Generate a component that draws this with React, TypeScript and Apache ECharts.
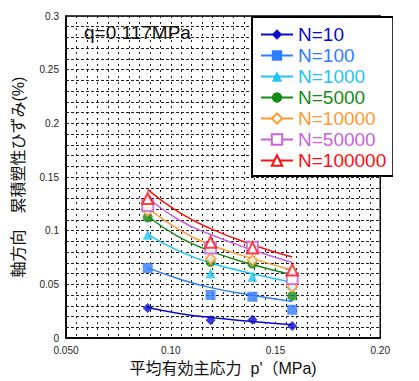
import React, { useEffect, useRef } from "react";
import * as echarts from "echarts";

const FONT = "'Liberation Sans', Arial, 'Noto Sans CJK JP', sans-serif";

// measured points (mean effective stress p', MPa)
const pValues = [0.089, 0.119, 0.139, 0.158];
// cumulative axial plastic strain (%) at each p'
const n10 = [0.028, 0.0166, 0.0172, 0.0112];
const n100 = [0.0653, 0.0402, 0.0385, 0.0264];
const n1000 = [0.0963, 0.0601, 0.0571, 0.0495];
const n5000 = [0.1123, 0.0709, 0.0693, 0.0393];
const n10000 = [0.1185, 0.0739, 0.0724, 0.0479];
const n50000 = [0.1235, 0.084, 0.0847, 0.0555];
const n100000 = [0.13, 0.0893, 0.084, 0.0635];

// trend curves
const trendP = [0.089, 0.104, 0.119, 0.139, 0.158];
const t10 = [0.0285, 0.023, 0.0192, 0.0155, 0.0125];
const t100 = [0.0656, 0.055, 0.047, 0.04, 0.034];
const t1000 = [0.0966, 0.081, 0.07, 0.06, 0.052];
const t5000 = [0.1135, 0.094, 0.081, 0.0685, 0.059];
const t10000 = [0.121, 0.101, 0.087, 0.074, 0.0635];
const t50000 = [0.131, 0.11, 0.0965, 0.082, 0.0705];
const t100000 = [0.1383, 0.117, 0.102, 0.087, 0.0755];

const names = ["N=10", "N=100", "N=1000", "N=5000", "N=10000", "N=50000", "N=100000"];
const colors = ["#0a0ad0", "#2f7cff", "#1ec4f4", "#168a16", "#ff9a33", "#c764dc", "#ff1010"];
const symbols = ["diamond", "rect", "triangle", "circle", "emptyDiamond", "emptyRect", "emptyTriangle"];
const symbolSizes = [10, 10, 10, 10, 10, 11, 11];
const pointSets = [n10, n100, n1000, n5000, n10000, n50000, n100000];
const trendSets = [t10, t100, t1000, t5000, t10000, t50000, t100000];

const xTickLabels: Record<string, string> = { "0.05": "0.050", "0.1": "0.10", "0.15": "0.15", "0.2": "0.20" };
const title = "q=0.117MPa";
const xName = "平均有効主応力  p'（MPa)";
const yName = "軸方向　累積塑性ひずみ(%)";

export default function App() {
  const ref = useRef<HTMLDivElement>(null);
  useEffect(() => {
    if (!ref.current) return;
    const chart = echarts.init(ref.current, undefined, { renderer: "svg" });
    const lineSeries = names.map((n, i) => ({
      name: n,
      type: "line",
      data: trendP.map((p, k) => [p, trendSets[i][k]]),
      smooth: true,
      showSymbol: false,
      symbol: symbols[i],
      color: colors[i],
      lineStyle: { color: colors[i], width: 1.5 },
      itemStyle: { color: colors[i] },
      z: 2,
    }));
    const pointSeries = names.map((n, i) => ({
      name: n + " pts",
      type: "scatter",
      data: pValues.map((p, k) => [p, pointSets[i][k]]),
      symbol: symbols[i],
      symbolSize: symbolSizes[i],
      itemStyle: { color: colors[i], borderWidth: symbols[i].startsWith("empty") ? 1.3 : 0 },
      z: 3,
    }));
    chart.setOption({
      animation: false,
      textStyle: { fontFamily: FONT },
      title: {
        text: title,
        left: 84,
        top: 23,
        padding: 0,
        textStyle: { fontSize: 19, fontWeight: "normal", color: "#111", fontFamily: FONT },
      },
      legend: {
        data: names.map((n, i) => ({ name: n, textStyle: { color: colors[i] } })),
        orient: "vertical",
        left: 252,
        top: 17,
        backgroundColor: "#fff",
        borderColor: "#000",
        borderWidth: 2,
        borderRadius: 0,
        padding: [8, 7, 6, 8],
        itemGap: 2,
        itemWidth: 32,
        itemHeight: 13,
        selectedMode: false,
        textStyle: { fontSize: 19, lineHeight: 19, fontFamily: FONT },
      },
      grid: {
        left: 66,
        right: 6,
        top: 16,
        bottom: 39,
        show: true,
        borderColor: "#000",
        borderWidth: 1.5,
        backgroundColor: "#fff",
      },
      xAxis: {
        type: "value",
        min: 0.05,
        max: 0.2,
        interval: 0.05,
        name: xName,
        nameLocation: "middle",
        nameGap: 18,
        nameTextStyle: { fontSize: 16, color: "#111", fontFamily: FONT },
        axisLine: { show: true, lineStyle: { color: "#000", width: 1.5 } },
        axisTick: { show: false },
        axisLabel: {
          fontSize: 10,
          color: "#222",
          margin: 7,
          formatter: (v: number) => xTickLabels[String(Math.round(v * 100) / 100)] ?? String(v),
        },
        splitLine: { show: true, lineStyle: { color: "#222", type: [2, 4], width: 1 } },
        minorTick: { show: false, splitNumber: 10 },
        minorSplitLine: { show: true, lineStyle: { color: "#222", type: [2, 4], width: 1 } },
      },
      yAxis: {
        type: "value",
        min: 0,
        max: 0.3,
        interval: 0.05,
        name: yName,
        nameLocation: "middle",
        nameGap: 40,
        nameTextStyle: { fontSize: 16, color: "#111", fontFamily: FONT },
        axisLine: { show: true, lineStyle: { color: "#000", width: 1.5 } },
        axisTick: { show: false },
        axisLabel: { fontSize: 10, color: "#222", margin: 7 },
        splitLine: { show: true, lineStyle: { color: "#222", type: [3, 2], width: 1 } },
        minorTick: { show: false, splitNumber: 5 },
        minorSplitLine: { show: true, lineStyle: { color: "#222", type: [3, 2], width: 1 } },
      },
      series: [...lineSeries, ...pointSeries],
    });
    return () => chart.dispose();
  }, []);
  return (
    <div style={{ position: "absolute", left: 0, top: 0, width: 419, height: 381, background: "#fff" }}>
      <div ref={ref} style={{ width: 393, height: 381 }} />
    </div>
  );
}
